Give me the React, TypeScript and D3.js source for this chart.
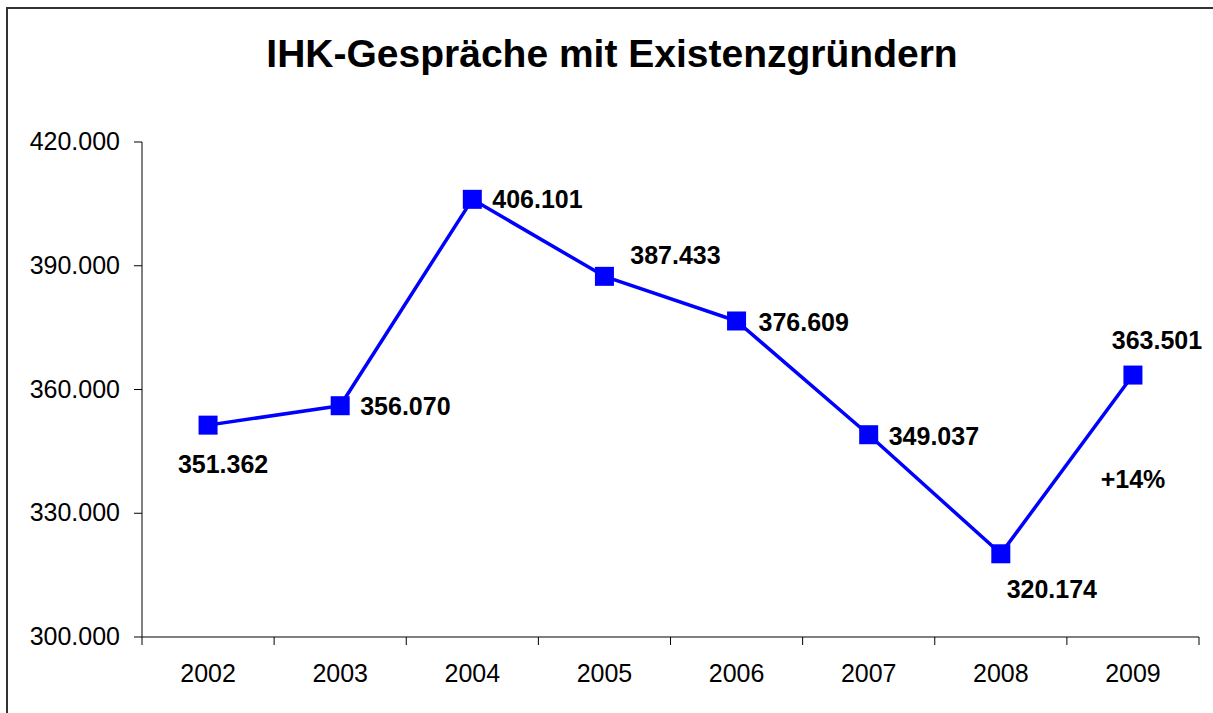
import React from "react";
import * as d3 from "d3";

const years = ["2002", "2003", "2004", "2005", "2006", "2007", "2008", "2009"];
const values = [351362, 356070, 406101, 387433, 376609, 349037, 320174, 363501];
const yTicks = [300000, 330000, 360000, 390000, 420000];
const title = "IHK-Gespräche mit Existenzgründern";
const annotation = "+14%";

// label offsets relative to the point (dx, dy, anchor)
const labelPos: [number, number, string][] = [
  [15, 48, "middle"],
  [20, 9, "start"],
  [20, 9, "start"],
  [71, -12, "middle"],
  [22, 10, "start"],
  [20, 10, "start"],
  [51, 44, "middle"],
  [24, -26, "middle"],
];

const W = 1213;
const H = 713;
const left = 142;
const right = 1199;
const top = 142;
const bottom = 637;
const font = "Arial, 'Liberation Sans', sans-serif";

export default function App() {
  const x = d3.scaleBand().domain(years).range([left, right]).padding(0);
  const y = d3.scaleLinear().domain([300000, 420000]).range([bottom, top]);
  const fmt = (v: number) => d3.format(",")(v).replace(/,/g, ".");
  const cx = (d: string) => (x(d) as number) + x.bandwidth() / 2;
  const line = d3
    .line<number>()
    .x((_, i) => cx(years[i]))
    .y((v) => y(v));
  const bounds = years.map((d) => x(d) as number).concat([right]);

  return (
    <svg
      width={W}
      height={H}
      style={{ position: "absolute", left: 0, top: 0, background: "#fff" }}
      fontFamily={font}
    >
      <rect x={7} y={8} width={1215} height={715} fill="#fff" stroke="#333" strokeWidth={2} />
      <text x={612} y={67} textAnchor="middle" fontSize={39} fontWeight="bold" fill="#000">
        {title}
      </text>
      {/* y axis */}
      <line x1={left} x2={left} y1={top} y2={bottom} stroke="#000" strokeWidth={1} />
      {yTicks.map((t) => (
        <g key={t}>
          <line x1={left - 8} x2={left} y1={y(t)} y2={y(t)} stroke="#000" />
          <text x={120} y={y(t) + 8} textAnchor="end" fontSize={25} fill="#000">
            {fmt(t)}
          </text>
        </g>
      ))}
      {/* x axis */}
      <line x1={left} x2={right} y1={bottom} y2={bottom} stroke="#000" />
      {bounds.map((b, i) => (
        <line key={i} x1={b} x2={b} y1={bottom} y2={bottom + 8} stroke="#000" />
      ))}
      {years.map((d) => (
        <text key={d} x={cx(d)} y={682} textAnchor="middle" fontSize={25} fill="#000">
          {d}
        </text>
      ))}
      <path d={line(values) as string} fill="none" stroke="#0000FF" strokeWidth={3.5} strokeLinejoin="round" />
      {values.map((v, i) => (
        <rect key={i} x={cx(years[i]) - 9.5} y={y(v) - 9.5} width={19} height={19} fill="#0000FF" />
      ))}
      {values.map((v, i) => (
        <text
          key={"l" + i}
          x={cx(years[i]) + labelPos[i][0]}
          y={y(v) + labelPos[i][1]}
          textAnchor={labelPos[i][2] as any}
          fontSize={25}
          fontWeight="bold"
          fill="#000"
        >
          {fmt(v)}
        </text>
      ))}
      <text x={1133} y={488} textAnchor="middle" fontSize={25} fontWeight="bold" fill="#000">
        {annotation}
      </text>
    </svg>
  );
}
